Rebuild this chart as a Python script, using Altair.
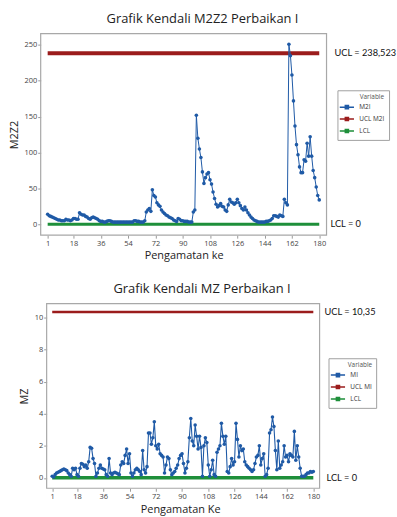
import altair as alt
import pandas as pd

obs = list(range(1, 181))
x_ticks = [1, 18, 36, 54, 72, 90, 108, 126, 144, 162, 180]

m2z2 = [
    14, 12, 11, 10, 9, 8, 7, 6, 6, 5,
    5, 5, 7, 6, 6, 5, 6, 8, 8, 7,
    7, 16, 14, 13, 13, 11, 10, 8, 7, 9,
    10, 9, 8, 7, 5, 4, 4, 3, 3, 4,
    5, 5, 4, 3, 3, 3, 3, 3, 3, 3,
    3, 3, 3, 3, 3, 3, 3, 5, 5, 4,
    4, 3, 3, 3, 5, 17, 20, 22, 18, 48,
    40, 38, 30, 27, 25, 20, 17, 15, 13, 12,
    10, 9, 8, 6, 5, 4, 8, 7, 5, 5,
    4, 4, 4, 3, 3, 3, 17, 20, 152, 120,
    105, 93, 73, 57, 65, 70, 72, 62, 56, 45,
    36, 28, 24, 26, 29, 25, 24, 20, 18, 27,
    35, 31, 30, 28, 30, 35, 30, 26, 22, 20,
    24, 20, 16, 13, 10, 8, 6, 5, 4, 3,
    3, 3, 3, 3, 4, 4, 5, 6, 8, 12,
    12, 11, 10, 13, 12, 11, 35, 30, 27, 251,
    235, 208, 172, 137, 111, 97, 80, 72, 72, 90,
    88, 113, 95, 122, 95, 75, 65, 52, 40, 34,
]

mz = [
    0.10, 0.05, 0.20, 0.30, 0.35, 0.40, 0.45, 0.50, 0.55, 0.50,
    0.45, 0.30, 0.20, 0.10, 0.60, 0.50, 0.60, 0.20, 0.10, 0.60,
    0.90, 0.85, 0.70, 0.80, 0.60, 1.00, 1.90, 1.85, 1.20, 0.90,
    0.10, 0.30, 0.60, 0.80, 0.60, 0.55, 0.50, 0.20, 0.10, 1.20,
    0.30, 0.20, 0.30, 0.35, 0.30, 0.25, 0.20, 0.80, 1.00, 0.90,
    1.40, 1.80, 0.90, 1.50, 0.30, 0.10, 0.30, 0.50, 0.60, 0.50,
    0.40, 0.20, 1.70, 0.50, 0.30, 0.70, 2.80, 2.80, 2.10, 2.50,
    3.50, 2.00, 1.80, 2.10, 1.50, 1.40, 1.30, 0.30, 0.80, 1.30,
    1.20, 0.50, 0.20, 0.30, 0.40, 0.60, 0.80, 1.20, 1.40, 1.50,
    0.90, 0.30, 0.60, 1.00, 2.50, 3.70, 2.30, 2.00, 3.30, 2.60,
    1.80, 2.60, 1.90, 0.10, 2.00, 2.50, 2.20, 0.80, 0.10, 0.50,
    1.10, 0.20, 0.10, 1.60, 1.80, 2.00, 3.40, 2.60, 2.10, 2.60,
    0.40, 0.30, 0.70, 1.20, 0.80, 1.00, 3.40, 2.40, 1.30, 2.00,
    1.70, 1.80, 1.00, 0.80, 0.70, 0.60, 0.50, 0.40, 0.50, 0.90,
    1.30, 1.40, 2.00, 0.80, 1.20, 1.50, 0.10, 0.20, 0.60, 2.80,
    3.00, 3.80, 3.20, 1.70, 0.50, 2.30, 0.60, 0.80, 1.00, 2.00,
    1.30, 1.40, 1.00, 1.50, 1.40, 1.30, 2.90, 1.10, 2.00, 1.30,
    0.60, 0.10, 0.10, 0.10, 0.20, 0.30, 0.30, 0.40, 0.35, 0.40,
]

ucl_top = 238.523
ucl_bot = 10.35
lcl = 0

top_names = ["M2I", "UCL M2I", "LCL"]
bot_names = ["MI", "UCL MI", "LCL"]
top_labels = ["UCL = 238,523", "LCL = 0"]
bot_labels = ["UCL = 10,35", "LCL = 0"]

BLUE = "#1f5aa6"
RED = "#9b1c1c"
GREEN = "#1e8f3a"
FONT = "Open Sans"
NOTE_FONT = "Lato"
SYM = "M-1.6,0H1.6M-0.35,-0.35H0.35V0.35H-0.35Z"


def frame_df(vals, names, ucl):
    rows = []
    for i, v in zip(obs, vals):
        rows.append({"obs": i, "value": v, "series": names[0]})
    for i in obs:
        rows.append({"obs": i, "value": ucl, "series": names[1]})
    for i in obs:
        rows.append({"obs": i, "value": lcl, "series": names[2]})
    return pd.DataFrame(rows)


def panel(vals, names, ucl, labels, title, xtitle, ytitle, W, H, xdom, ydom,
          yvals, shift, sw, lblx, title_dx, legx, legy, xlp, xtp):
    df = frame_df(vals, names, ucl)
    xs = alt.Scale(domain=xdom, nice=False, zero=False)
    ys = alt.Scale(domain=ydom, nice=False, zero=False)
    cs = alt.Scale(domain=names, range=[BLUE, RED, GREEN])
    xax = alt.Axis(values=x_ticks, title=xtitle, grid=False, domain=False,
                   tickColor="#9a9a9a", tickSize=3, labelFontSize=7.5,
                   labelColor="#444444", labelPadding=xlp, titleFontSize=11,
                   titleFontWeight="normal", titleColor="#222222",
                   titlePadding=xtp, labelFont=FONT, titleFont=FONT,
                   labelOverlap=False, labelFlush=False)
    yax = alt.Axis(values=yvals, title=ytitle, grid=False, domain=False,
                   tickColor="#9a9a9a", tickSize=3, labelFontSize=7.5,
                   labelColor="#444444", labelPadding=1, titleFontSize=11,
                   titleFontWeight="normal", titleColor="#222222",
                   titlePadding=5, labelFont=FONT, titleFont=FONT,
                   offset=-shift, labelOverlap=False, labelFlush=False)
    leg = alt.Legend(orient="none", legendX=legx, legendY=legy, title="Variable",
                     titleFontSize=6.5, titleFontWeight="normal",
                     titleColor="#555555", titleAnchor="end", titlePadding=1,
                     labelFontSize=6.5, labelColor="#333333", labelFont=FONT,
                     titleFont=FONT, symbolType=SYM, symbolSize=80,
                     symbolStrokeWidth=1.5, fillColor="white",
                     strokeColor="#a0a0a0", padding=4, rowPadding=1,
                     labelOffset=7)
    X = alt.X("obs:Q", scale=xs, axis=xax)
    Y = alt.Y("value:Q", scale=ys, axis=yax)
    C = alt.Color("series:N", scale=cs, sort=names, legend=leg)
    base = alt.Chart(df)

    def sel(name):
        return base.transform_filter(
            alt.FieldEqualPredicate(field="series", equal=name))

    ucl_line = sel(names[1]).mark_line(strokeWidth=sw[1]).encode(x=X, y=Y, color=C)
    lcl_line = sel(names[2]).mark_line(strokeWidth=sw[2]).encode(x=X, y=Y, color=C)
    main = sel(names[0]).mark_line(strokeWidth=sw[0]).encode(x=X, y=Y, color=C)
    pts = sel(names[0]).mark_point(filled=True, size=13, opacity=1,
                                   shape="circle").encode(x=X, y=Y, color=C)
    lab_df = pd.DataFrame({"value": [ucl, lcl], "label": labels,
                           "dx": lblx})
    txt = alt.Chart(lab_df).mark_text(align="left", baseline="middle",
                                      fontSize=9.3, font=NOTE_FONT,
                                      color="#111111").encode(
        x=alt.X("dx:Q", scale=None),
        y=Y,
        text="label:N",
    )
    frame = alt.Chart(pd.DataFrame({"a": [0]})).mark_rect(
        fill=None, stroke="#a8a8a8", strokeWidth=1.2
    ).encode(x=alt.value(shift), x2=alt.value(W), y=alt.value(0),
             y2=alt.value(H))
    return alt.layer(frame, ucl_line, lcl_line, main, pts, txt).properties(
        width=W, height=H,
        title=alt.TitleParams(title, fontSize=13, font=FONT,
                              fontWeight="normal", color="#222222",
                              anchor="middle", dx=title_dx, offset=7),
    )


top = panel(m2z2, top_names, ucl_top, top_labels,
            "Grafik Kendali M2Z2 Perbaikan I", "Pengamatan ke", "M2Z2",
            288, 203, [-3.6, 184.8], [-15.2, 265.7], [0, 50, 100, 150, 200, 250],
            0, [1, 4, 3], [296, 292], 19, 299, 57, 1, 3)

bot = panel(mz, bot_names, ucl_bot, bot_labels,
            "Grafik Kendali MZ Perbaikan I", "Pengamatan Ke", "MZ",
            281, 186, [-6.9, 184.3], [-0.65, 10.87], [0, 2, 4, 6, 8, 10],
            6, [1.1, 2.5, 3.5], [286, 288], 22, 290, 55, 1, 4)

chart = alt.vconcat(top, bot, spacing=22).resolve_scale(
    x="independent", y="independent", color="independent"
).resolve_legend(color="independent").properties(
    padding={"left": 8, "top": 11, "right": 0, "bottom": 0}
).configure_view(stroke=None)

chart.save("out.html", embed_options={"renderer": "svg", "actions": False})
